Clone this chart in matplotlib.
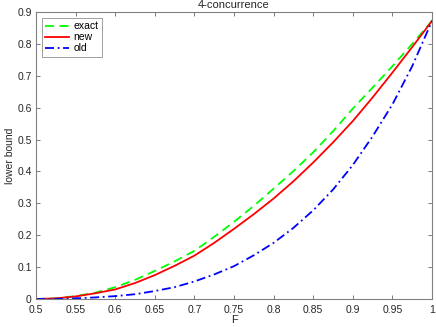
import numpy as np
import matplotlib
matplotlib.use("Agg")
import matplotlib.pyplot as plt

plt.rcParams['font.family'] = ['Liberation Sans', 'DejaVu Sans']

# fidelity F
F = [0.5, 0.525, 0.55, 0.575, 0.6, 0.625, 0.65, 0.675, 0.7, 0.725, 0.75,
     0.775, 0.8, 0.825, 0.85, 0.875, 0.9, 0.925, 0.95, 0.975, 1.0]

exact = [0.0, 0.002, 0.009, 0.020, 0.037, 0.060, 0.088, 0.118, 0.151, 0.195, 0.242,
         0.292, 0.346, 0.401, 0.460, 0.526, 0.597, 0.663, 0.730, 0.800, 0.872]
new = [0.0, 0.002, 0.008, 0.018, 0.030, 0.050, 0.075, 0.104, 0.136, 0.176, 0.220,
       0.266, 0.315, 0.369, 0.428, 0.491, 0.558, 0.632, 0.710, 0.790, 0.872]
old = [0.0, 0.000, 0.002, 0.005, 0.009, 0.015, 0.025, 0.037, 0.055, 0.077, 0.103,
       0.137, 0.176, 0.223, 0.278, 0.343, 0.420, 0.510, 0.610, 0.730, 0.872]

xticks = [0.5, 0.55, 0.6, 0.65, 0.7, 0.75, 0.8, 0.85, 0.9, 0.95, 1.0]
xticklabels = ["0.5", "0.55", "0.6", "0.65", "0.7", "0.75", "0.8", "0.85", "0.9", "0.95", "1"]
yticks = [0, 0.1, 0.2, 0.3, 0.4, 0.5, 0.6, 0.7, 0.8, 0.9]
yticklabels = ["0", "0.1", "0.2", "0.3", "0.4", "0.5", "0.6", "0.7", "0.8", "0.9"]

fig = plt.figure(figsize=(4.36, 3.27), dpi=100)
ax = fig.add_axes([36 / 436, 1 - 299 / 327, 396 / 436, 287 / 327])

ax.plot(F, exact, color=(0, 1, 0), linestyle=(0, (5, 3)), lw=1.3, label="exact")
ax.plot(F, new, color=(1, 0, 0), linestyle="-", lw=1.3, label="new")
ax.plot(F, old, color=(0, 0, 1), linestyle=(0, (5, 2, 1, 2)), lw=1.3, label="old")

ax.set_xlim(0.5, 1.0)
ax.set_ylim(0, 0.9)
ax.set_xticks(xticks)
ax.set_xticklabels(xticklabels)
ax.set_yticks(yticks)
ax.set_yticklabels(yticklabels)

axcol = (0.15, 0.15, 0.15)
for s in ax.spines.values():
    s.set_color((0.5, 0.5, 0.5))
    s.set_linewidth(0.8)
ax.tick_params(direction="in", length=3, width=0.6, color=(0.4, 0.4, 0.4),
               labelsize=7.5, labelcolor=axcol, top=True, right=True)
ax.tick_params(axis="x", pad=4)
ax.tick_params(axis="y", pad=3)

ax.set_xlabel("F", fontsize=8, color=axcol, labelpad=0)
ax.set_ylabel("lower bound", fontsize=7.5, color=axcol, labelpad=2)
ax.set_title("4-concurrence", fontsize=8, color=axcol, pad=3)

leg = ax.legend(loc="upper left", fontsize=7.5, frameon=True, fancybox=False,
                borderaxespad=0.6, handlelength=2.3, handletextpad=0.4,
                labelspacing=0.1, borderpad=0.3)
leg.get_frame().set_edgecolor((0.45, 0.45, 0.45))
leg.get_frame().set_linewidth(0.6)

fig.savefig("out.png", dpi=100)
